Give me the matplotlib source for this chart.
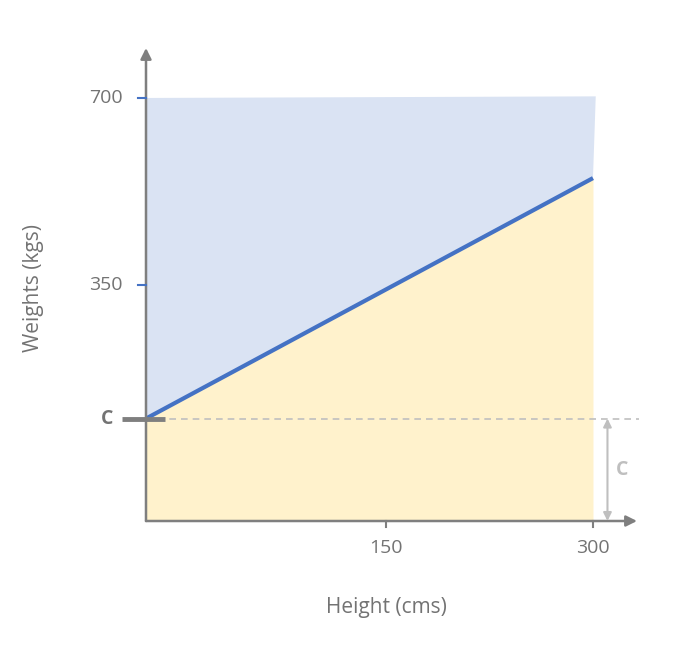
import matplotlib.pyplot as plt

# line data (schematic: weight = C + m * height)
heights = [-23.9, 300]
weights = [100, 550]
c_value = 100
y_top = [700, 703]
x_ticks = [150, 300]
x_tick_labels = ["150", "300"]
y_ticks = [350, 700]
y_tick_labels = ["350", "700"]

BLUE_FILL = "#dae3f3"
YELLOW_FILL = "#fff2cc"
LINE = "#4472c4"
AXIS = "#7f7f7f"
TEXT = "#737373"
LIGHT = "#bfbfbf"

plt.rcParams['font.family'] = ['Open Sans', 'DejaVu Sans']

fig = plt.figure(figsize=(6.78, 6.52), dpi=100)
W, H = 678, 652
ax = fig.add_axes([146 / W, (H - 521) / H, (637 - 146) / W, (521 - 48) / H])
x0, x1 = -23.9, 331.9
y0, y1 = -91.7, 793.5
ax.set_xlim(x0, x1)
ax.set_ylim(y0, y1)
ax.axis('off')

# fills
ax.fill([heights[0], heights[0], heights[1] + 2, heights[1]],
        [weights[0], y_top[0], y_top[1], weights[1]],
        color=BLUE_FILL, lw=0, zorder=1)
ax.fill_between(heights, [y0, y0], weights, color=YELLOW_FILL, lw=0, zorder=1)

# dashed C level
ax.plot([x0, 333], [c_value, c_value], ls=(0, (4, 3)), color=LIGHT, lw=1.2, zorder=2,
        clip_on=False)

# regression line
ax.plot(heights, weights, color=LINE, lw=3, solid_capstyle='butt', zorder=4)

# axes with arrows
ax.annotate("", xy=(x0, y1), xytext=(x0, y0),
            arrowprops=dict(arrowstyle="-|>", color=AXIS, lw=1.8,
                            mutation_scale=16, shrinkA=0, shrinkB=0),
            annotation_clip=False, zorder=5)
ax.annotate("", xy=(x1, y0), xytext=(x0, y0),
            arrowprops=dict(arrowstyle="-|>", color=AXIS, lw=1.8,
                            mutation_scale=16, shrinkA=0, shrinkB=0),
            annotation_clip=False, zorder=5)

# y ticks
for v, lab in zip(y_ticks, y_tick_labels):
    ax.plot([x0 - 6, x0], [v, v], color=LINE, lw=1.5, clip_on=False, zorder=5)
    ax.text(x0 - 17, v, lab, ha='right', va='center', fontsize=14, color=TEXT)

# x ticks
for v, lab in zip(x_ticks, x_tick_labels):
    ax.plot([v, v], [y0, y0 - 11], color=AXIS, lw=1.5, clip_on=False, zorder=5)
    ax.text(v, y0 - 50, lab, ha='center', va='center', fontsize=14, color=TEXT)

# C marker on y axis
ax.plot([x0 - 17.5, x0 + 14], [c_value, c_value], color=AXIS, lw=3.5,
        solid_capstyle='butt', clip_on=False, zorder=6)
ax.text(x0 - 28.5, c_value, "C", ha='center', va='center', fontsize=14,
        fontweight='bold', color=TEXT)

# C distance arrow on the right
ax.annotate("", xy=(310.5, c_value), xytext=(310.5, y0),
            arrowprops=dict(arrowstyle="<|-|>", color=LIGHT, lw=1.5,
                            mutation_scale=12, shrinkA=0, shrinkB=0),
            annotation_clip=False, zorder=5)
ax.text(321, 3, "C", ha='center', va='center', fontsize=14,
        fontweight='bold', color=LIGHT)

# axis titles
fig.text(33 / W, 1 - 288 / H, "Weights (kgs)", rotation=90, ha='center', va='center',
         fontsize=15, color=TEXT)
fig.text(386 / W, 1 - 607 / H, "Height (cms)", ha='center', va='center',
         fontsize=15, color=TEXT)

fig.savefig("out.png", dpi=100)
